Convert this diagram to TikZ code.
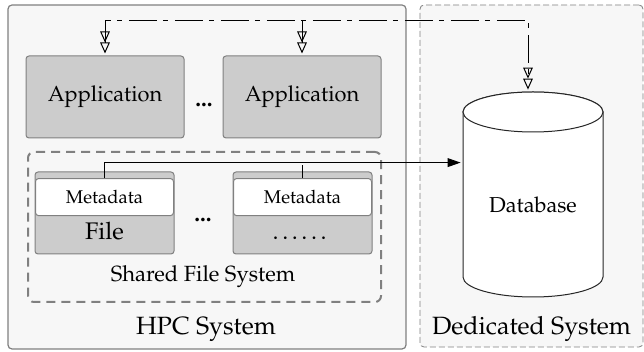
\documentclass[tikz,border=0pt]{standalone}
\usepackage[T1]{fontenc}
\usepackage{mathpazo}
\usetikzlibrary{arrows.meta,positioning,calc}

\tikzset{
  dtri/.tip={Triangle[open,length=5.5pt,width=4.8pt] Triangle[open,length=5.5pt,width=4.8pt]},
  sysbox/.style={draw=gray, fill=black!3, line width=0.6pt, inner sep=0pt},
  dedline/.style={line width=0.4pt, dash pattern=on 3pt off 1.5pt},
  appbox/.style={draw=gray, fill=black!20, line width=0.5pt, rounded corners=1.5pt,
    minimum width=79pt, minimum height=41pt, inner sep=0pt, font=\fontsize{10.9}{13}\selectfont},
  fsbox/.style={draw=gray, line width=1pt, dash pattern=on 4.5pt off 3pt, rounded corners=3pt,
    minimum width=176.5pt, minimum height=75pt, inner sep=0pt},
  filebox/.style={draw=gray, fill=black!20, line width=0.5pt, rounded corners=1.5pt,
    minimum width=69.5pt, minimum height=41pt, inner sep=0pt},
  metabox/.style={draw=gray, fill=white, line width=0.5pt, rounded corners=1.5pt,
    minimum width=69pt, minimum height=18.5pt, inner sep=0pt, font=\fontsize{9.2}{11}\selectfont},
  filetext/.style={inner sep=0pt, font=\fontsize{12}{14}\selectfont},
  dots/.style={inner sep=0pt, font=\bfseries\fontsize{11.5}{13}\selectfont},
  caption/.style={inner sep=0pt, font=\fontsize{11}{13}\selectfont},
  systitle/.style={inner sep=0pt, font=\fontsize{12.5}{15}\selectfont},
  dbline/.style={draw=black!85, fill=white, line width=0.5pt},
  dbbody/.style={minimum width=70pt, minimum height=92.5pt, inner sep=0pt, font=\fontsize{10.8}{13}\selectfont},
  feed/.style={line width=0.5pt, shorten >=1pt},
  ctrl/.style={line width=0.5pt, shorten >=1pt, shorten <=1pt, dash pattern=on 14pt off 3pt on 2.5pt off 3.5pt}
}

\begin{document}
\begin{tikzpicture}[x=0.5pt,y=-0.5pt,>={Triangle[length=6.5pt,width=4.4pt]}]
  \useasboundingbox (0,0) rectangle (644,352);

  % the two systems
  \node[sysbox, rounded corners=2pt, minimum width=199pt, minimum height=172pt] (hpc) at (207,177) {};
  \node[sysbox, dedline, rounded corners=2pt, minimum width=111.5pt, minimum height=171pt] (ded) at (531.5,176) {};

  % applications
  \node[appbox] (app1) at (105,97) {Application};
  \node[appbox, right=19pt of app1] (app2) {Application};
  \node[dots, anchor=base] (appdots) at (204,107) {...};

  % shared file system
  \node[fsbox] (sfs) at (204.5,227) {};
  \node[filebox] (file1) at (104.5,213) {};
  \node[filebox, right=29pt of file1] (file2) {};
  \node[metabox, below=3.3pt of file1.north] (meta1) {Metadata};
  \node[metabox, below=3.3pt of file2.north] (meta2) {Metadata};
  \node[filetext, anchor=base] (fname1) at (104.5,240) {File};
  \node[filetext, anchor=base] (fname2) at (301.5,240) {\ldots\ldots};
  \node[dots, anchor=base] (filedots) at (203,221.5) {...};
  \node[caption, anchor=base] (sfslabel) at (203,281.7) {Shared File System};

  % database
  \coordinate (dbc) at (533,204.5);
  \filldraw[dbline] ($(dbc)+(-70,-92.5)$) -- ($(dbc)+(-70,72.5)$)
      arc[start angle=180, end angle=360, x radius=35pt, y radius=10pt]
      -- ($(dbc)+(70,-92.5)$)
      arc[start angle=0, end angle=180, x radius=35pt, y radius=10pt] -- cycle;
  \draw[dbline] ($(dbc)+(0,-92.5)$) ellipse[x radius=35pt, y radius=10pt];
  \node[dbbody] (db) at (dbc) {Database};

  \node[systitle, anchor=base] (hpclabel) at (206,335) {HPC System};
  \node[systitle, anchor=base] (dedlabel) at (531.5,335) {Dedicated System};

  % connectors
  \coordinate (dbin) at ([yshift=-25.5pt]db.north west);
  \coordinate (bus) at ([yshift=17.5pt]app1.north);
  \coordinate (dbtop) at ([xshift=-2.5pt,yshift=10pt]db.north);
  \draw[feed,->] (meta1.north) |- (dbin);
  \draw[feed] (meta2.north) -- (meta2.north |- dbin);
  \draw[ctrl,{dtri}-{dtri}] (app1.north) -- (bus) -| (dbtop);
  \draw[line width=0.5pt, shorten >=1pt, -{dtri}] (app2.north |- bus) -- (app2.north);
\end{tikzpicture}
\end{document}
